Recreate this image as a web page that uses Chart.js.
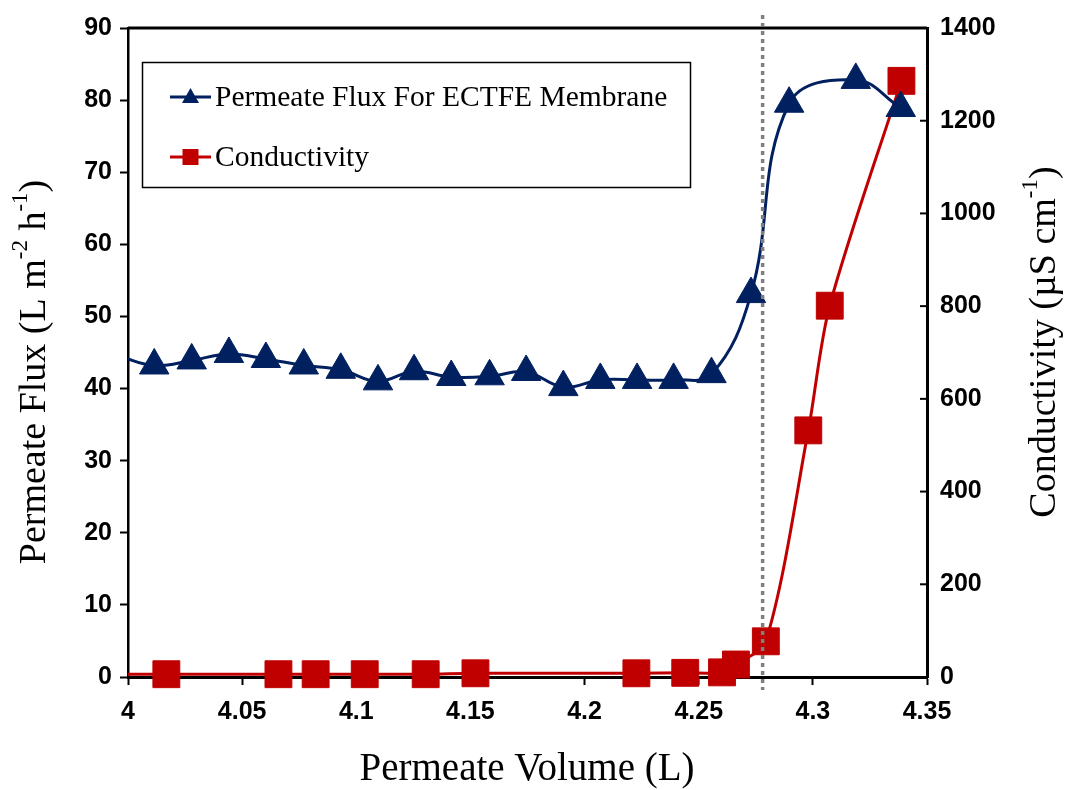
<!DOCTYPE html>
<html>
<head>
<meta charset="utf-8">
<script src="https://cdn.jsdelivr.net/npm/chart.js@4.4.0/dist/chart.umd.min.js"></script>
<style>
  body { margin: 0; background: #fff; }
  #wrap { width: 1066px; height: 790px; position: relative; }
</style>
</head>
<body>
<div id="wrap"><canvas id="chart"></canvas></div>
<script>
// permeate flux (L m-2 h-1) against permeate volume (L); first point lies left of the axis
const fluxVolume = [3.9952, 4.0115, 4.0279, 4.0442, 4.0604, 4.0770, 4.0932, 4.1095, 4.1253, 4.1416,
                    4.1584, 4.1744, 4.1907, 4.2069, 4.2230, 4.2390, 4.2556, 4.2729, 4.2896, 4.3188, 4.3385];
const fluxValues = [44.6, 43.2, 43.9, 44.8, 44.1, 43.2, 42.6, 41.0, 42.4, 41.6,
                    41.7, 42.3, 40.2, 41.2, 41.2, 41.2, 42.0, 53.1, 79.5, 82.8, 78.9];

// conductivity (uS cm-1)
const condVolume = [3.990, 4.0168, 4.0659, 4.0822, 4.1037, 4.1304, 4.1522, 4.2227, 4.2441,
                    4.2602, 4.2663, 4.2794, 4.2980, 4.3074, 4.3388];
const condValues = [6, 6, 6, 6, 6, 6, 8, 8, 9, 10, 27, 77, 532, 801, 1286];

const breakthroughVolume = 4.278;

const xTicks = [4, 4.05, 4.1, 4.15, 4.2, 4.25, 4.3, 4.35];
const fluxTicks = [0, 10, 20, 30, 40, 50, 60, 70, 80, 90];
const condTicks = [0, 200, 400, 600, 800, 1000, 1200, 1400];

const navy = '#002060';
const red = '#C00000';
const tickFont = { family: "'Liberation Sans', Arial, sans-serif", size: 25, weight: 'bold' };
const serif = "'Liberation Serif', 'Times New Roman', serif";

const toPoints = (xs, ys) => xs.map((x, i) => ({ x: x, y: ys[i] }));

function drawRich(ctx, parts, size) {
  // parts: [text, isSuperscript], drawn centred on (0,0)
  const supSize = Math.round(size * 0.6);
  let total = 0;
  const widths = parts.map(([t, sup]) => {
    ctx.font = (sup ? supSize : size) + 'px ' + serif;
    const w = ctx.measureText(t).width;
    total += w;
    return w;
  });
  let x = -total / 2;
  ctx.textBaseline = 'middle';
  ctx.textAlign = 'left';
  parts.forEach(([t, sup], i) => {
    ctx.font = (sup ? supSize : size) + 'px ' + serif;
    ctx.fillText(t, x, sup ? -size * 0.36 : 0);
    x += widths[i];
  });
}

const decorPlugin = {
  id: 'decor',
  afterDatasetsDraw(chart) {
    const { ctx, chartArea, scales } = chart;
    ctx.save();
    // top frame line
    ctx.strokeStyle = '#000';
    ctx.lineWidth = 3;
    ctx.beginPath();
    ctx.moveTo(chartArea.left, chartArea.top);
    ctx.lineTo(chartArea.right, chartArea.top);
    ctx.stroke();
    // inner ticks of the right axis
    ctx.lineWidth = 2;
    condTicks.forEach(v => {
      const y = scales.y2.getPixelForValue(v);
      ctx.beginPath();
      ctx.moveTo(chartArea.right - 7, y);
      ctx.lineTo(chartArea.right, y);
      ctx.stroke();
    });
    // breakthrough marker
    const bx = scales.x.getPixelForValue(breakthroughVolume);
    ctx.strokeStyle = '#7f7f7f';
    ctx.lineWidth = 3.5;
    ctx.setLineDash([4, 4]);
    ctx.beginPath();
    ctx.moveTo(bx, chartArea.top - 13);
    ctx.lineTo(bx, chartArea.bottom + 13);
    ctx.stroke();
    ctx.setLineDash([]);
    ctx.restore();
  },
  afterDraw(chart) {
    const { ctx, chartArea } = chart;
    ctx.save();
    ctx.fillStyle = '#000';
    // axis titles
    ctx.save();
    ctx.translate(527, 770);
    drawRich(ctx, [['Permeate Volume (L)', false]], 39);
    ctx.restore();

    ctx.save();
    ctx.translate(35, 372);
    ctx.rotate(-Math.PI / 2);
    drawRich(ctx, [['Permeate Flux (L m', false], ['-2', true], [' h', false], ['-1', true], [')', false]], 38);
    ctx.restore();

    ctx.save();
    ctx.translate(1045, 342);
    ctx.rotate(-Math.PI / 2);
    drawRich(ctx, [['Conductivity (\u00B5S cm', false], ['-1', true], [')', false]], 38);
    ctx.restore();

    // legend box
    ctx.strokeStyle = '#000';
    ctx.lineWidth = 1.5;
    ctx.strokeRect(142.5, 62.5, 548, 125);
    const items = [
      { label: 'Permeate Flux For ECTFE Membrane', color: navy, shape: 'triangle' },
      { label: 'Conductivity', color: red, shape: 'square' }
    ];
    items.forEach((it, i) => {
      const y = 97 + i * 60;
      ctx.strokeStyle = it.color;
      ctx.fillStyle = it.color;
      ctx.lineWidth = 3;
      ctx.beginPath();
      ctx.moveTo(170, y);
      ctx.lineTo(211, y);
      ctx.stroke();
      ctx.beginPath();
      if (it.shape === 'triangle') {
        ctx.moveTo(190.5, y - 9);
        ctx.lineTo(199, y + 6);
        ctx.lineTo(182, y + 6);
      } else {
        ctx.rect(182.5, y - 8, 16, 16);
      }
      ctx.closePath();
      ctx.fill();
      ctx.fillStyle = '#000';
      ctx.font = '29.5px ' + serif;
      ctx.textAlign = 'left';
      ctx.textBaseline = 'middle';
      ctx.fillText(it.label, 215, y + 1);
    });
    ctx.restore();
  }
};

const hideOutside = c => (c.raw && c.raw.x < 4 ? 0 : null);

new Chart(document.getElementById('chart'), {
  type: 'line',
  data: {
    datasets: [
      {
        label: 'Permeate Flux For ECTFE Membrane',
        data: toPoints(fluxVolume, fluxValues),
        yAxisID: 'y',
        borderColor: navy,
        backgroundColor: navy,
        borderWidth: 3,
        tension: 0.4,
        pointStyle: 'triangle',
        pointRadius: c => hideOutside(c) ?? 17,
        pointBorderWidth: 1,
        clip: { left: 0, top: false, right: false, bottom: false }
      },
      {
        label: 'Conductivity',
        data: toPoints(condVolume, condValues),
        yAxisID: 'y2',
        borderColor: red,
        backgroundColor: red,
        borderWidth: 3,
        tension: 0.3,
        pointStyle: 'rect',
        pointRadius: c => hideOutside(c) ?? 19,
        pointBorderWidth: 1,
        clip: { left: 0, top: false, right: false, bottom: false }
      }
    ]
  },
  options: {
    responsive: true,
    maintainAspectRatio: false,
    animation: false,
    events: [],
    layout: { padding: { top: 27, left: 0, right: 0, bottom: 0 } },
    plugins: {
      legend: { display: false },
      tooltip: { enabled: false }
    },
    scales: {
      x: {
        type: 'linear',
        min: 4,
        max: 4.35,
        afterBuildTicks: s => { s.ticks = xTicks.map(v => ({ value: v })); },
        afterFit: s => { s.height = 113; },
        grid: { drawOnChartArea: false, tickLength: 8, tickWidth: 2, color: '#000' },
        border: { color: '#000', width: 3 },
        ticks: { color: '#000', font: tickFont, padding: 12, maxRotation: 0, callback: v => String(+v.toFixed(2)) }
      },
      y: {
        position: 'left',
        min: 0,
        max: 90,
        afterBuildTicks: s => { s.ticks = fluxTicks.map(v => ({ value: v })); },
        afterFit: s => { s.width = 128; },
        grid: { drawOnChartArea: false, tickLength: 8, tickWidth: 2, color: '#000' },
        border: { color: '#000', width: 2.5 },
        ticks: { color: '#000', font: tickFont, padding: 8, callback: v => String(v) }
      },
      y2: {
        position: 'right',
        min: 0,
        max: 1400,
        afterBuildTicks: s => { s.ticks = condTicks.map(v => ({ value: v })); },
        afterFit: s => { s.width = 139; },
        grid: { drawOnChartArea: false, drawTicks: false },
        border: { color: '#000', width: 3 },
        ticks: { color: '#000', font: tickFont, padding: 13, callback: v => String(v) }
      }
    }
  },
  plugins: [decorPlugin]
});
</script>
</body>
</html>
